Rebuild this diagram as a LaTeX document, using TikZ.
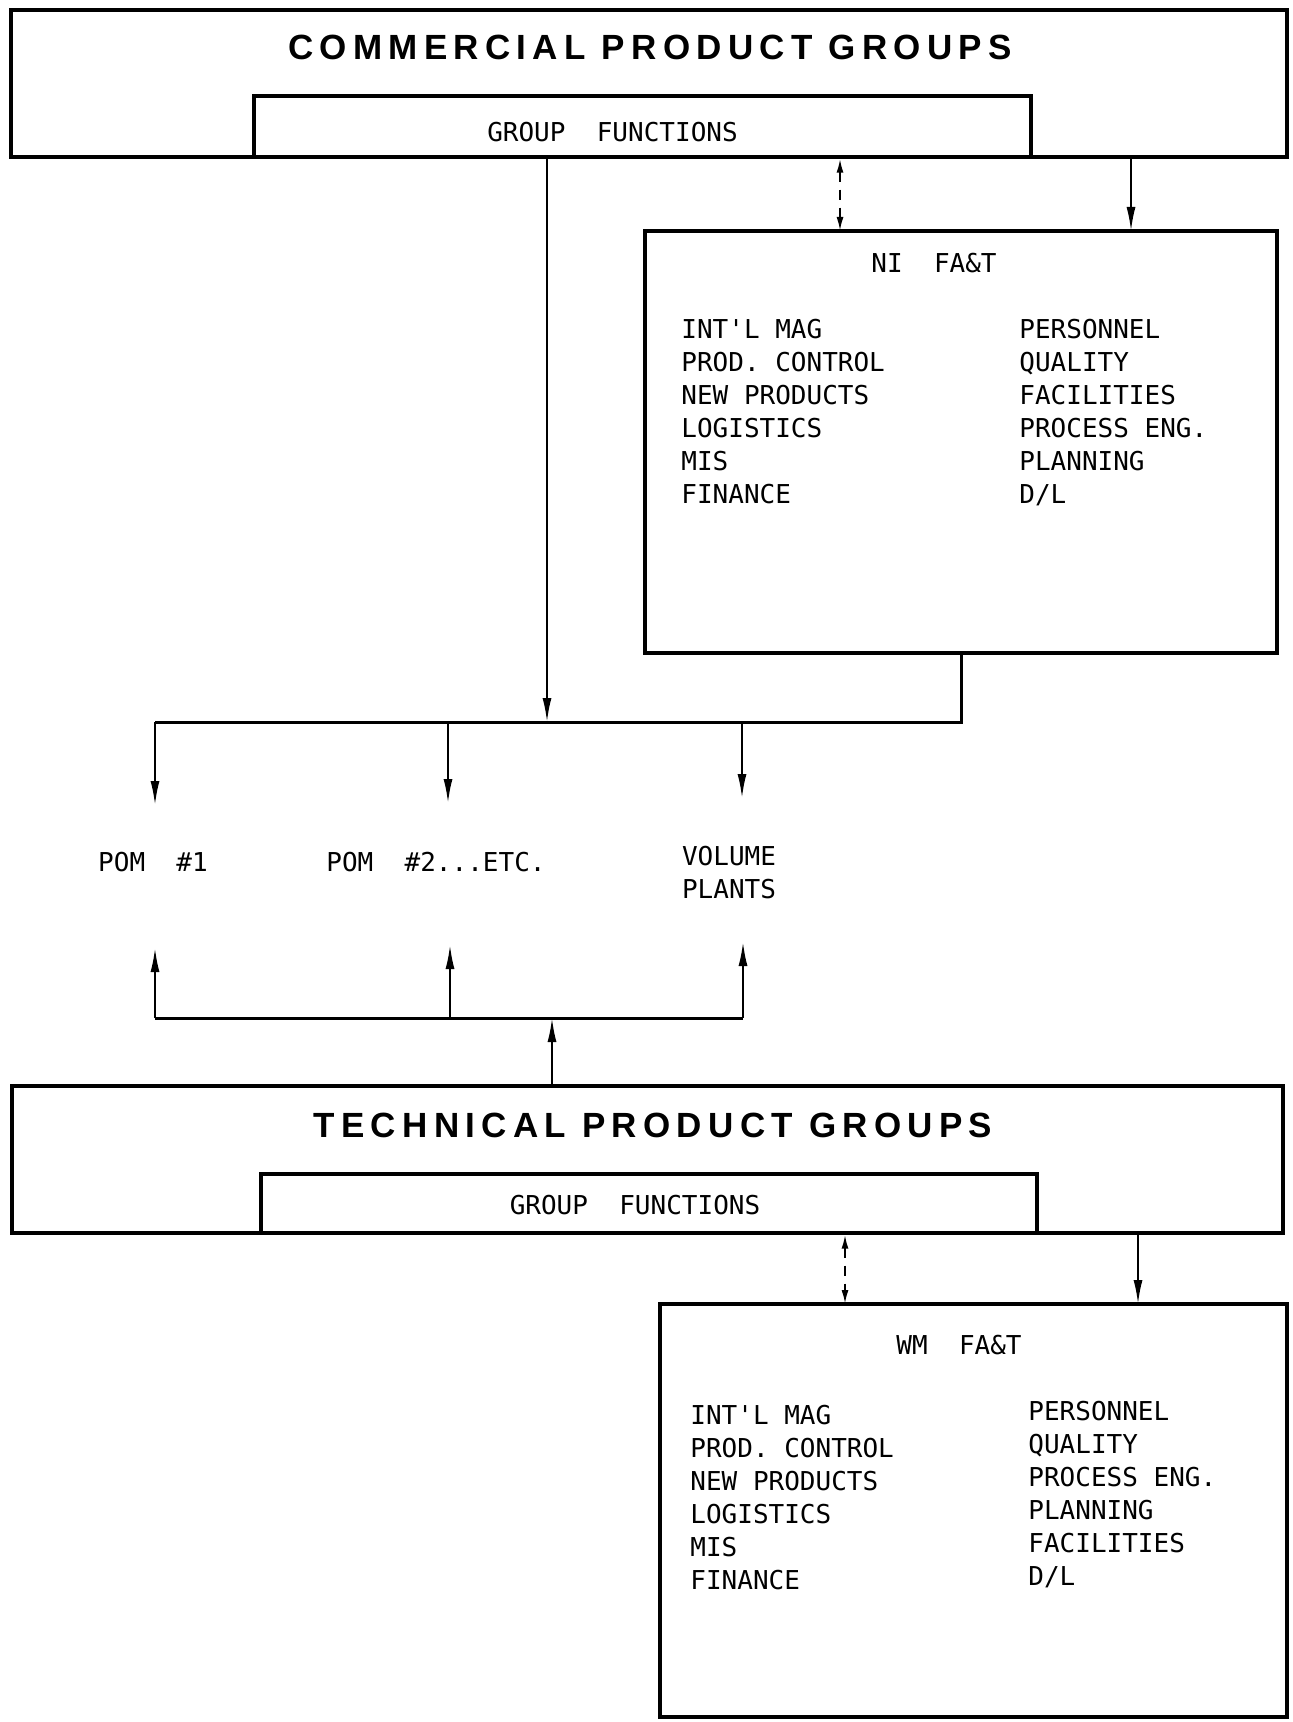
\documentclass[tikz,border=0pt]{standalone}
\usepackage{fontspec}
\usepackage{tikz}
\usetikzlibrary{arrows.meta,calc}
\newfontfamily\plotfont{DejaVu Sans Mono}
\newfontfamily\headfont[LetterSpace=18]{Liberation Sans}
\tikzset{
  orgbox/.style={draw=black, line width=1.6pt, inner sep=0pt},
  headlab/.style={font=\headfont\bfseries\fontsize{17.5}{20}\selectfont, inner sep=0pt},
  plotlab/.style={font=\plotfont\fontsize{13}{16.5}\selectfont, inner sep=0pt},
  listlab/.style={plotlab, align=left, anchor=north west},
  conn/.style={draw=black, line width=1pt},
  bus/.style={draw=black, line width=1.5pt},
  arr/.style={conn, -{Latex[length=12pt, width=4.5pt]}},
  dasharr/.style={conn, dash pattern=on 5pt off 4pt,
                  {Latex[length=7pt, width=3.5pt]}-{Latex[length=7pt, width=3.5pt]}},
}

\begin{document}
\begin{tikzpicture}[x=0.5pt, y=-0.5pt]
  \useasboundingbox (0,0) rectangle (1293,1722);

  % commercial side
  \node[orgbox, minimum width=638pt, minimum height=73.5pt] (cpg) at (649,83.5) {};
  \node[headlab] (cpgtitle) at (650,47) {COMMERCIAL PRODUCT GROUPS};
  \node[orgbox, minimum width=388.5pt, minimum height=30.5pt,
        label={[plotlab, xshift=-15pt, yshift=-3pt]center:GROUP\ \ FUNCTIONS}] (cgf) at (642.5,126.5) {};

  \node[orgbox, minimum width=316pt, minimum height=211pt] (ni) at (961,442) {};
  \node[plotlab] (nititle) at (934,263) {NI\ \ FA\&T};
  \node[listlab] (nileft) at (681,319) {INT'L MAG\\PROD. CONTROL\\NEW PRODUCTS\\LOGISTICS\\MIS\\FINANCE};
  \node[listlab] (niright) at (1019,319) {PERSONNEL\\QUALITY\\FACILITIES\\PROCESS ENG.\\PLANNING\\D/L};

  \coordinate (dn) at (840,231);
  \coordinate (sn) at (1131,231);
  \draw[dasharr] (dn |- cpg.south) -- (dn);
  \draw[arr] (sn |- cpg.south) -- (sn);

  % plants
  \node[plotlab] (pom1) at (153,862) {POM\ \ \#1};
  \node[plotlab] (pom2) at (436,862) {POM\ \ \#2...ETC.};
  \node[plotlab, align=left] (vol) at (729,873) {VOLUME\\PLANTS};

  \coordinate (jtop) at (547,722);
  \coordinate (pa) at (155,805);
  \coordinate (pb) at (448,803);
  \coordinate (pc) at (742,798);
  \draw[arr] (jtop |- cpg.south) -- (jtop);
  \draw[bus] (pa |- jtop) -- (ni.south |- jtop) -- (ni.south);
  \draw[arr] (pa |- jtop) -- (pa);
  \draw[arr] (pb |- jtop) -- (pb);
  \draw[arr] (pc |- jtop) -- (pc);

  \coordinate (jbot) at (552,1018);
  \coordinate (qa) at (155,948);
  \coordinate (qb) at (450,945);
  \coordinate (qc) at (743,942);
  \draw[bus] (qa |- jbot) -- (qc |- jbot);
  \draw[arr] (qa |- jbot) -- (qa);
  \draw[arr] (qb |- jbot) -- (qb);
  \draw[arr] (qc |- jbot) -- (qc);

  % technical side
  \node[orgbox, minimum width=635.5pt, minimum height=73.5pt] (tpg) at (647.5,1159.5) {};
  \node[headlab] (tpgtitle) at (653,1125) {TECHNICAL PRODUCT GROUPS};
  \node[orgbox, minimum width=388pt, minimum height=29.5pt,
        label={[plotlab, xshift=-7pt, yshift=-1pt]center:GROUP\ \ FUNCTIONS}] (tgf) at (649,1203.5) {};
  \draw[arr] (jbot |- tpg.north) -- (jbot);

  \node[orgbox, minimum width=313.5pt, minimum height=206.5pt] (wm) at (973.5,1510.5) {};
  \node[plotlab] (wmtitle) at (959,1345) {WM\ \ FA\&T};
  \node[listlab] (wmleft) at (690,1405) {INT'L MAG\\PROD. CONTROL\\NEW PRODUCTS\\LOGISTICS\\MIS\\FINANCE};
  \node[listlab] (wmright) at (1028,1401) {PERSONNEL\\QUALITY\\PROCESS ENG.\\PLANNING\\FACILITIES\\D/L};

  \coordinate (dw) at (845,1304);
  \coordinate (sw) at (1138,1304);
  \draw[dasharr] (dw |- tpg.south) -- (dw);
  \draw[arr] (sw |- tpg.south) -- (sw);
\end{tikzpicture}
\end{document}
